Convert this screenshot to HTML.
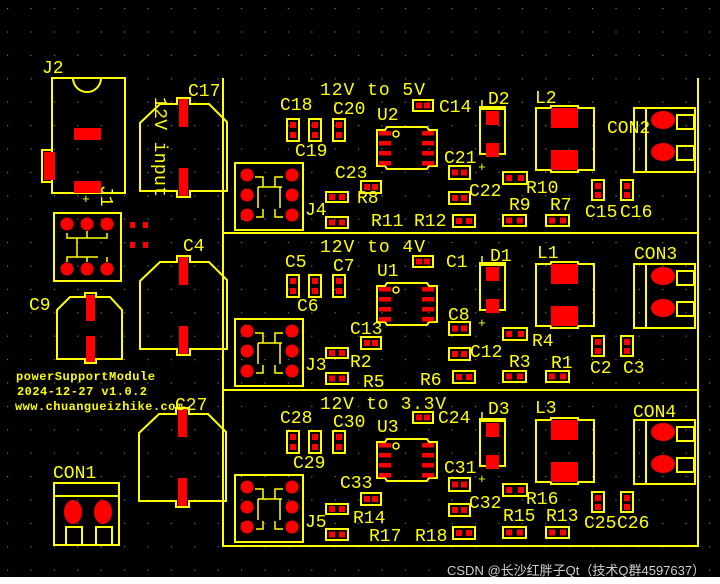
<!DOCTYPE html>
<html><head><meta charset="utf-8"><style>
html,body{margin:0;padding:0;background:#000;}
svg{display:block}
text{font-family:"Liberation Mono","Noto Sans CJK SC",monospace;fill:#ff0;font-size:18px}
.o{fill:none;stroke:#ff0;stroke-width:2}
.t{fill:none;stroke:#ff0;stroke-width:1.5}
.r{fill:#f00}
</style></head><body>
<svg width="720" height="584" viewBox="0 0 720 584" xmlns="http://www.w3.org/2000/svg">
<defs>
<pattern id="dots" x="7" y="8" width="23.4" height="23.4" patternUnits="userSpaceOnUse">
<rect x="0" y="0" width="1.2" height="1.2" fill="#777"/>
</pattern>
<g id="sec">
<rect class="o" x="287" y="275" width="12" height="22"/><rect class="r" x="290" y="278" width="6" height="6"/><rect class="r" x="290" y="288" width="6" height="6"/>
<rect class="o" x="309" y="275" width="12" height="22"/><rect class="r" x="312" y="278" width="6" height="6"/><rect class="r" x="312" y="288" width="6" height="6"/>
<rect class="o" x="333" y="275" width="12" height="22"/><rect class="r" x="336" y="278" width="6" height="6"/><rect class="r" x="336" y="288" width="6" height="6"/>
<rect class="o" x="235" y="319" width="68" height="67"/>
<circle class="r" cx="247" cy="331" r="6.5"/><circle class="r" cx="247" cy="351" r="6.5"/><circle class="r" cx="247" cy="371" r="6.5"/>
<circle class="r" cx="292" cy="331" r="6.5"/><circle class="r" cx="292" cy="351" r="6.5"/><circle class="r" cx="292" cy="371" r="6.5"/>
<path class="t" d="M255 333H263V343M283 333H275V343M258 343H282M258 343V364M280 343V364M263 365V373H256M275 365V373H283"/>
<rect class="o" x="326" y="348" width="22" height="10"/><rect class="r" x="329" y="350" width="6" height="6"/><rect class="r" x="339" y="350" width="6" height="6"/>
<rect class="o" x="326" y="373" width="22" height="11"/><rect class="r" x="329" y="375.5" width="6" height="6"/><rect class="r" x="339" y="375.5" width="6" height="6"/>
<rect class="o" x="361" y="337" width="20" height="12"/><rect class="r" x="364" y="340" width="6" height="6"/><rect class="r" x="372" y="340" width="6" height="6"/>
<rect class="o" x="413" y="256" width="20" height="11"/><rect class="r" x="416" y="258.5" width="6" height="6"/><rect class="r" x="424" y="258.5" width="6" height="6"/>
<rect class="o" x="449" y="322" width="21" height="13"/><rect class="r" x="452" y="325.5" width="6" height="6"/><rect class="r" x="461" y="325.5" width="6" height="6"/>
<rect class="o" x="449" y="348" width="21" height="12"/><rect class="r" x="452" y="351" width="6" height="6"/><rect class="r" x="461" y="351" width="6" height="6"/>
<rect class="o" x="453" y="371" width="22" height="12"/><rect class="r" x="456" y="374" width="6" height="6"/><rect class="r" x="466" y="374" width="6" height="6"/>
<rect class="o" x="503" y="328" width="24" height="12"/><rect class="r" x="506" y="331" width="6" height="6"/><rect class="r" x="518" y="331" width="6" height="6"/>
<rect class="o" x="503" y="371" width="23" height="11"/><rect class="r" x="506" y="373.5" width="6" height="6"/><rect class="r" x="517" y="373.5" width="6" height="6"/>
<rect class="o" x="546" y="371" width="23" height="11"/><rect class="r" x="549" y="373.5" width="6" height="6"/><rect class="r" x="560" y="373.5" width="6" height="6"/>
<rect class="o" x="592" y="336" width="12" height="20"/><rect class="r" x="595" y="339" width="6" height="6"/><rect class="r" x="595" y="348" width="6" height="6"/>
<rect class="o" x="621" y="336" width="12" height="20"/><rect class="r" x="624" y="339" width="6" height="6"/><rect class="r" x="624" y="348" width="6" height="6"/>
<polygon class="o" points="377,286 385,286 387,283 427,283 429,286 437,286 437,322 429,322 427,325 387,325 385,322 377,322"/>
<rect class="r" x="379" y="287" width="12" height="4.5"/><rect class="r" x="379" y="297" width="12" height="4.5"/><rect class="r" x="379" y="307" width="12" height="4.5"/><rect class="r" x="379" y="317" width="12" height="4.5"/>
<rect class="r" x="422" y="287" width="12" height="4.5"/><rect class="r" x="422" y="297" width="12" height="4.5"/><rect class="r" x="422" y="307" width="12" height="4.5"/><rect class="r" x="422" y="317" width="12" height="4.5"/>
<circle class="t" cx="396" cy="290" r="3"/>
<rect class="o" x="480" y="263" width="25" height="47"/><rect x="480" y="262" width="25" height="4" fill="#ff0"/>
<rect class="r" x="486" y="267" width="13" height="14"/><rect class="r" x="486" y="299" width="13" height="14"/>
<path class="t" d="M482 256V262"/>
<text x="478" y="327" style="font-size:13px">+</text>
<polygon class="o" points="536,264 551,264 551,262 578,262 578,264 594,264 594,326 578,326 578,328 551,328 551,326 536,326"/>
<rect class="r" x="551" y="264" width="27" height="20"/><rect class="r" x="551" y="306" width="27" height="20"/>
<rect class="o" x="634" y="264" width="61" height="64"/><path class="o" d="M646 264V328"/>
<ellipse class="r" cx="663" cy="276" rx="12" ry="9"/><ellipse class="r" cx="663" cy="308" rx="12" ry="9"/>
<rect class="o" x="677" y="271" width="17" height="14"/><rect class="o" x="677" y="302" width="17" height="14"/>
</g>
</defs>
<rect width="720" height="584" fill="#000"/>
<rect width="720" height="577" fill="url(#dots)"/>

<path class="o" d="M223 78V546H698V78M223 233H698M223 390H698"/>

<use href="#sec" transform="translate(0,-156)"/>
<use href="#sec"/>
<use href="#sec" transform="translate(0,156)"/>

<rect class="o" x="52" y="78" width="73" height="115"/>
<path class="o" d="M73 78A14 14 0 0 0 101 78"/>
<rect class="o" x="42" y="150" width="10" height="32" fill="#000"/>
<rect class="r" x="44" y="152" width="11" height="28"/>
<rect class="r" x="74" y="128" width="27" height="12"/><rect class="r" x="74" y="181" width="27" height="12"/>
<text x="42" y="73">J2</text>
<text x="82" y="203" style="font-size:13px">+</text>
<text transform="translate(101,185) rotate(90)">J1</text>
<rect class="o" x="54" y="213" width="67" height="68"/>
<circle class="r" cx="67" cy="224" r="6.5"/><circle class="r" cx="87" cy="224" r="6.5"/><circle class="r" cx="107" cy="224" r="6.5"/>
<circle class="r" cx="67" cy="269" r="6.5"/><circle class="r" cx="87" cy="269" r="6.5"/><circle class="r" cx="107" cy="269" r="6.5"/>
<path class="t" d="M67 233V238H77M87 231V238M107 233V238H98M77 238H98M77 238V257M67 262V257H98M87 262V257M107 262V257"/>
<rect class="r" x="130" y="222" width="5" height="6"/><rect class="r" x="143" y="222" width="5" height="6"/>
<rect class="r" x="130" y="242" width="5" height="6"/><rect class="r" x="143" y="242" width="5" height="6"/>
<polygon class="o" points="140,123 160,104 177,104 177,98 190,98 190,104 209,104 227,122 227,191 190,191 190,197 177,197 177,191 140,191"/>
<rect class="r" x="179" y="99" width="9" height="28"/><rect class="r" x="179" y="168" width="9" height="28"/>
<text x="188" y="96">C17</text>
<text transform="translate(155,97) rotate(90)" textLength="100">12V input</text>
<g transform="translate(0,158)">
<polygon class="o" points="140,123 160,104 177,104 177,98 190,98 190,104 209,104 227,122 227,191 190,191 190,197 177,197 177,191 140,191"/>
<rect class="r" x="179" y="99" width="9" height="28"/><rect class="r" x="179" y="168" width="9" height="28"/>
</g>
<text x="183" y="251">C4</text>
<g transform="translate(-1,310)">
<polygon class="o" points="140,123 160,104 177,104 177,98 190,98 190,104 209,104 227,122 227,191 190,191 190,197 177,197 177,191 140,191"/>
<rect class="r" x="179" y="99" width="9" height="28"/><rect class="r" x="179" y="168" width="9" height="28"/>
</g>
<text x="175" y="410">C27</text>
<polygon class="o" points="57,310 70,297 85,297 85,293 96,293 96,297 110,297 122,310 122,359 96,359 96,363 85,363 85,359 57,359"/>
<rect class="r" x="86" y="295" width="9" height="26"/><rect class="r" x="86" y="336" width="9" height="26"/>
<text x="29" y="310">C9</text>
<rect class="o" x="54" y="483" width="65" height="62"/><path class="o" d="M54 496H119"/>
<ellipse class="r" cx="73" cy="512" rx="9" ry="12"/><ellipse class="r" cx="103" cy="512" rx="9" ry="12"/>
<rect class="o" x="66" y="527" width="16" height="18"/><rect class="o" x="96" y="527" width="16" height="18"/>
<text x="53" y="478">CON1</text>
<g style="font-weight:bold">
<text x="16" y="380" style="font-size:12px" textLength="139">powerSupportModule</text>
<text x="17" y="395" style="font-size:12px" textLength="130">2024-12-27 v1.0.2</text>
<text x="15" y="410" style="font-size:12px" textLength="168">www.chuangueizhike.com</text>
</g>

<text x="320" y="95" textLength="105">12V to 5V</text>
<text x="280" y="110">C18</text><text x="333" y="114">C20</text><text x="295" y="156">C19</text>
<text x="377" y="120">U2</text><text x="439" y="112">C14</text><text x="488" y="104">D2</text>
<text x="535" y="103">L2</text><text x="607" y="133">CON2</text><text x="335" y="178">C23</text>
<text x="357" y="203">R8</text><text x="305" y="215">J4</text><text x="371" y="226">R11</text>
<text x="414" y="226">R12</text><text x="444" y="163">C21</text><text x="469" y="196">C22</text>
<text x="526" y="193">R10</text><text x="509" y="210">R9</text><text x="550" y="210">R7</text>
<text x="585" y="217">C15</text><text x="620" y="217">C16</text>
<text x="320" y="252" textLength="105">12V to 4V</text>
<text x="285" y="267">C5</text><text x="333" y="271">C7</text><text x="297" y="311">C6</text>
<text x="377" y="276">U1</text><text x="446" y="267">C1</text><text x="490" y="261">D1</text>
<text x="537" y="258">L1</text><text x="634" y="259">CON3</text><text x="350" y="334">C13</text>
<text x="350" y="367">R2</text><text x="305" y="370">J3</text><text x="363" y="387">R5</text>
<text x="420" y="385">R6</text><text x="448" y="320">C8</text><text x="470" y="357">C12</text>
<text x="532" y="346">R4</text><text x="509" y="367">R3</text><text x="551" y="368">R1</text>
<text x="590" y="373">C2</text><text x="623" y="373">C3</text>
<text x="320" y="409" textLength="126">12V to 3.3V</text>
<text x="280" y="423">C28</text><text x="333" y="427">C30</text><text x="293" y="468">C29</text>
<text x="377" y="432">U3</text><text x="438" y="423">C24</text><text x="488" y="414">D3</text>
<text x="535" y="413">L3</text><text x="633" y="417">CON4</text><text x="340" y="488">C33</text>
<text x="353" y="523">R14</text><text x="305" y="527">J5</text><text x="369" y="541">R17</text>
<text x="415" y="541">R18</text><text x="444" y="473">C31</text><text x="469" y="508">C32</text>
<text x="526" y="504">R16</text><text x="503" y="521">R15</text><text x="546" y="521">R13</text>
<text x="584" y="528">C25</text><text x="617" y="528">C26</text>

<text x="447" y="575" style="fill:#cfcfcf;font-size:13px;font-family:'Liberation Sans','Noto Sans CJK SC',sans-serif">CSDN @长沙红胖子Qt（技术Q群4597637）</text>
<rect x="0" y="577" width="720" height="7" fill="#fff"/>
</svg>
</body></html>
